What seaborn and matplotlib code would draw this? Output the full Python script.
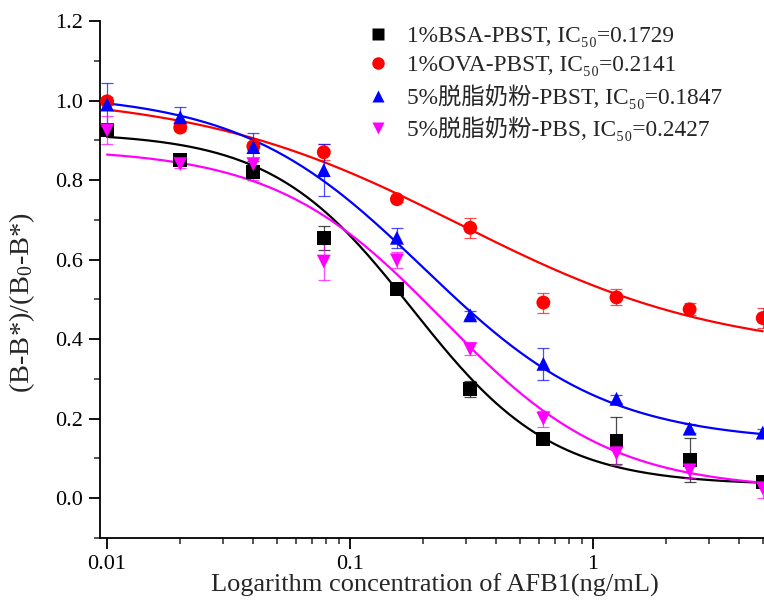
import numpy as np
import pandas as pd
import matplotlib
matplotlib.use("Agg")
import matplotlib.pyplot as plt
import seaborn as sns
from matplotlib.ticker import FixedLocator, NullFormatter, LogLocator

# ---- data ----
conc = [0.01, 0.02, 0.04, 0.078, 0.156, 0.3125, 0.625, 1.25, 2.5, 5.0]

series_names = ["1%BSA-PBST, IC₅₀=0.1729",
                "1%OVA-PBST, IC₅₀=0.2141",
                "5%脱脂奶粉-PBST, IC₅₀=0.1847",
                "5%脱脂奶粉-PBS, IC₅₀=0.2427"]

bsa_y   = [0.925, 0.850, 0.820, 0.655, 0.525, 0.275, 0.148, 0.145, 0.097, 0.040]
bsa_err = [0.012, 0.008, 0.012, 0.030, 0.010, 0.020, 0.008, 0.060, 0.055, 0.008]

ova_y   = [0.998, 0.932, 0.885, 0.870, 0.752, 0.680, 0.492, 0.505, 0.475, 0.453]
ova_err = [0.010, 0.008, 0.010, 0.020, 0.008, 0.025, 0.025, 0.020, 0.015, 0.025]

milk_pbst_y   = [0.990, 0.958, 0.883, 0.825, 0.655, 0.460, 0.338, 0.250, 0.175, 0.165]
milk_pbst_err = [0.055, 0.025, 0.035, 0.065, 0.025, 0.010, 0.040, 0.010, 0.012, 0.010]

milk_pbs_y   = [0.925, 0.840, 0.840, 0.595, 0.598, 0.375, 0.200, 0.113, 0.070, 0.025]
milk_pbs_err = [0.035, 0.010, 0.040, 0.045, 0.020, 0.015, 0.020, 0.030, 0.020, 0.025]

# four-parameter logistic fit parameters (A1, A2, x0, p) estimated from the curves
fit_params = [
    [0.92, 0.033, 0.18, 1.50],
    [1.02, 0.36, 0.28, 0.80],
    [1.02, 0.14, 0.20, 1.15],
    [0.88, 0.02, 0.24, 1.25],
]

colors = ["#000000", "#ff0000", "#0000ff", "#ff00ff"]
markers = ["s", "o", "^", "v"]

ys = [bsa_y, ova_y, milk_pbst_y, milk_pbs_y]
errs = [bsa_err, ova_err, milk_pbst_err, milk_pbs_err]

# ---- style ----
sns.set_style("ticks")
plt.rcParams["font.family"] = ["Liberation Serif", "Noto Sans CJK SC", "DejaVu Serif"]
plt.rcParams["mathtext.fontset"] = "custom"
plt.rcParams["mathtext.rm"] = "Liberation Serif"
plt.rcParams["mathtext.it"] = "Liberation Serif:italic"
plt.rcParams["mathtext.bf"] = "Liberation Serif:bold"

fig = plt.figure(figsize=(7.64, 6.05), dpi=100)
ax = fig.add_axes([100/764, 1 - 538/605, 1 - 100/764, (538 - 21)/605])

def four_pl(x, a1, a2, x0, p):
    return a2 + (a1 - a2) / (1.0 + (x / x0) ** p)

xfit = np.logspace(np.log10(conc[0]), np.log10(conc[-1]), 300)

rows = []
for name, y in zip(series_names, ys):
    for c, v in zip(conc, y):
        rows.append({"conc": c, "value": v, "series": name})
df = pd.DataFrame(rows)

fit_rows = []
for name, prm in zip(series_names, fit_params):
    for xv, yv in zip(xfit, four_pl(xfit, *prm)):
        fit_rows.append({"conc": xv, "value": yv, "series": name})
fit_df = pd.DataFrame(fit_rows)

palette = dict(zip(series_names, colors))
marker_map = dict(zip(series_names, markers))

sns.lineplot(data=fit_df, x="conc", y="value", hue="series", palette=palette,
             linewidth=1.6, legend=False, ax=ax, zorder=2)

for name, y, e, col in zip(series_names, ys, errs, colors):
    ax.errorbar(conc, y, yerr=e, fmt="none", ecolor=col, elinewidth=0.9,
                capsize=4, capthick=0.9, alpha=0.7, zorder=3, clip_on=True)

sns.scatterplot(data=df, x="conc", y="value", hue="series", style="series",
                palette=palette, markers=marker_map, s=100, edgecolor="none",
                ax=ax, zorder=4, legend=True, clip_on=True)

ax.set_xscale("log")
ax.set_xlim(0.00935, 5.06)
ax.set_ylim(-0.1, 1.2)

ax.set_xticks([0.01, 0.1, 1])
ax.set_xticklabels(["0.01", "0.1", "1"])
ax.xaxis.set_minor_locator(LogLocator(base=10, subs=np.arange(2, 10)))
ax.xaxis.set_minor_formatter(NullFormatter())
ax.set_yticks(np.round(np.arange(0.0, 1.21, 0.2), 1))
ax.set_yticklabels([f"{v:.1f}" for v in np.arange(0.0, 1.21, 0.2)])
ax.yaxis.set_minor_locator(FixedLocator(np.arange(-0.1, 1.21, 0.1)))

ax.tick_params(axis="both", which="major", direction="out", length=8, width=1.3,
               labelsize=16, colors="black", pad=4.5)
ax.tick_params(axis="both", which="minor", direction="out", length=4, width=1.1)

for side in ["top", "right"]:
    ax.spines[side].set_visible(False)
for side in ["left", "bottom"]:
    ax.spines[side].set_linewidth(1.3)
    ax.spines[side].set_color("black")

ax.set_xlabel("Logarithm concentration of AFB1(ng/mL)", fontsize=19, labelpad=2)
ax.set_ylabel(r"(B-B*)/(B$_0$-B*)", fontsize=20.5)
ax.yaxis.set_label_coords(-0.095, 0.456)
ax.xaxis.set_label_coords(0.505, -0.068)

handles, labels = ax.get_legend_handles_labels()
leg = ax.legend(handles, labels, loc="upper left",
                bbox_to_anchor=(366/764, 1 - 26/605), bbox_transform=fig.transFigure,
                frameon=False, fontsize=16.8, handlelength=1.0, handletextpad=0.75,
                labelspacing=0.33, borderaxespad=0, borderpad=0, markerscale=0.9)

fig.savefig("out.png", dpi=100)
